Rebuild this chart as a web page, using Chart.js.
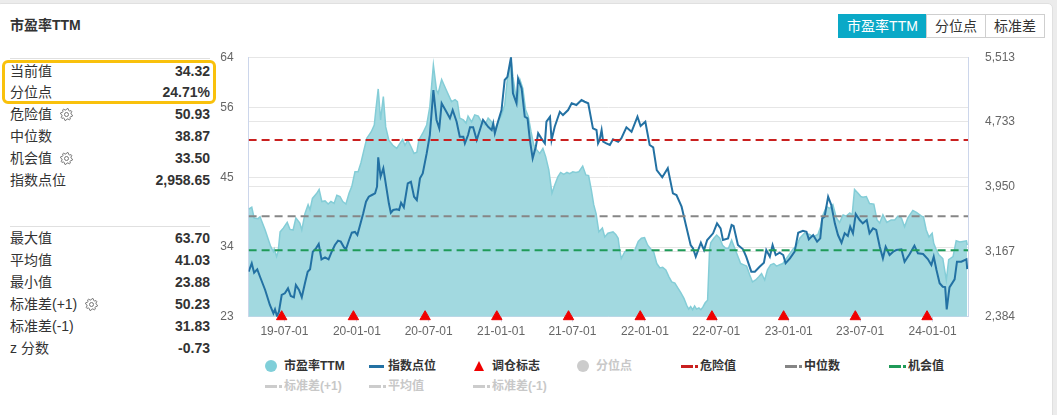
<!DOCTYPE html>
<html>
<head>
<meta charset="utf-8">
<script src="https://cdn.jsdelivr.net/npm/chart.js@4.4.1/dist/chart.umd.min.js"></script>
<style>
body{margin:0;background:#ececec;font-family:"Liberation Sans","Noto Sans CJK SC",sans-serif;color:#333;overflow:hidden;}
#card{position:absolute;left:-4px;top:3px;width:1055px;height:430px;background:#fff;border:1px solid #e0e0e0;border-radius:5px;}
.abs{position:absolute;}
#title{left:10px;top:15px;font-size:14px;font-weight:bold;line-height:20px;}
.sep{position:absolute;left:10px;width:200px;height:1px;background:#e0e0e0;}
.row{position:absolute;left:10px;width:200px;height:20px;line-height:20px;font-size:14px;}
.row .v{position:absolute;right:0;top:0;font-weight:bold;}
.row svg{vertical-align:-2px;margin-left:8px;}
#hl{position:absolute;left:2px;top:60px;width:208px;height:38px;border:3px solid #f9c10c;border-radius:6px;}
.btn{position:absolute;top:14px;height:24px;line-height:23px;font-size:14px;text-align:center;border:1px solid #cfcfcf;box-sizing:border-box;color:#333;background:#fff;}
.btn.on{background:#0aa9c7;border-color:#0aa9c7;color:#fff;}
#wrap{position:absolute;left:200px;top:40px;width:857px;height:310px;}
#wrap canvas{display:block;}
.lg{position:absolute;height:16px;line-height:16px;font-size:12px;font-weight:bold;white-space:nowrap;}
.lg .ic{position:absolute;left:0;top:0;width:18px;height:16px;}
.lg .tx{position:absolute;left:21px;top:0;}
</style>
</head>
<body>
<div id="card"></div>
<div id="title" class="abs">市盈率TTM</div>
<div class="btn on" style="left:838px;width:89px;">市盈率TTM</div>
<div class="btn" style="left:926px;width:60px;">分位点</div>
<div class="btn" style="left:985px;width:60px;">标准差</div>
<div id="panel"></div>
<div id="hl"></div>
<div id="wrap"><canvas id="mycanvas" width="857" height="310"></canvas></div>
<div id="legend"></div>
<script>
// PE TTM series
var peDates = [
'2019-04-01','2019-04-09','2019-04-15','2019-04-25','2019-04-30','2019-05-13','2019-05-27','2019-06-03','2019-06-05','2019-06-11',
'2019-06-15','2019-06-20','2019-06-28','2019-07-08','2019-07-15','2019-07-23','2019-07-30','2019-08-09','2019-08-14','2019-08-22',
'2019-08-30','2019-09-04','2019-09-10','2019-09-21','2019-09-27','2019-10-04','2019-10-12','2019-10-20','2019-10-27','2019-11-04',
'2019-11-11','2019-11-19','2019-11-26','2019-12-04','2019-12-12','2019-12-19','2019-12-27','2020-01-04','2020-01-11','2020-01-19',
'2020-01-26','2020-02-06','2020-02-14','2020-02-18','2020-02-24','2020-03-01','2020-03-08','2020-03-14','2020-03-22','2020-04-01',
'2020-04-11','2020-04-19','2020-04-26','2020-05-02','2020-05-09','2020-05-17','2020-05-25','2020-06-01','2020-06-06','2020-06-16',
'2020-06-26','2020-07-04','2020-07-13','2020-07-21','2020-07-25','2020-08-03','2020-08-15','2020-08-28','2020-09-06','2020-09-12',
'2020-09-18','2020-09-27','2020-10-04','2020-10-09','2020-10-18','2020-10-26','2020-11-04','2020-11-12','2020-11-21','2020-11-29',
'2020-12-08','2020-12-16','2020-12-24','2021-01-02','2021-01-10','2021-01-17','2021-01-23','2021-01-26','2021-01-31','2021-02-07',
'2021-02-12','2021-02-18','2021-02-25','2021-03-04','2021-03-11','2021-03-18','2021-03-25','2021-04-01','2021-04-09','2021-04-17',
'2021-04-24','2021-05-02','2021-05-10','2021-05-17','2021-05-25','2021-06-01','2021-06-09','2021-06-17','2021-06-24','2021-07-02',
'2021-07-10','2021-07-17','2021-07-27','2021-08-04','2021-08-11','2021-08-18','2021-08-24','2021-08-30','2021-09-06','2021-09-15',
'2021-09-21','2021-09-29','2021-10-12','2021-10-19','2021-10-25','2021-10-29','2021-11-02','2021-11-11','2021-11-24','2021-12-06',
'2021-12-15','2021-12-23','2021-12-31','2022-01-08','2022-01-16','2022-01-23','2022-01-31','2022-02-08','2022-02-15','2022-02-23',
'2022-03-03','2022-03-10','2022-03-18','2022-03-25','2022-04-02','2022-04-10','2022-04-17','2022-04-22','2022-04-27','2022-05-02',
'2022-05-07','2022-05-12','2022-05-18','2022-05-23','2022-05-28','2022-06-03','2022-06-09','2022-06-14','2022-06-17','2022-06-25',
'2022-07-02','2022-07-10','2022-07-17','2022-07-25','2022-08-01','2022-08-09','2022-08-17','2022-08-25','2022-09-01','2022-09-09',
'2022-09-16','2022-09-24','2022-10-01','2022-10-09','2022-10-17','2022-10-24','2022-11-01','2022-11-08','2022-11-16','2022-11-24',
'2022-12-01','2022-12-09','2022-12-17','2022-12-26','2023-01-04','2023-01-12','2023-01-21','2023-01-29','2023-02-10','2023-02-23',
'2023-03-04','2023-03-16','2023-03-23','2023-03-27','2023-04-07','2023-04-15','2023-04-23','2023-05-02','2023-05-10','2023-05-19',
'2023-05-27','2023-06-05','2023-06-11','2023-06-17','2023-06-26','2023-07-03','2023-07-08','2023-07-17','2023-07-25','2023-08-05',
'2023-08-13','2023-08-20','2023-08-28','2023-09-07','2023-09-18','2023-09-27','2023-10-05','2023-10-14','2023-10-22','2023-10-30',
'2023-11-12','2023-11-21','2023-12-04','2023-12-09','2023-12-16','2023-12-23','2023-12-31','2024-01-04','2024-01-11','2024-01-17',
'2024-01-27','2024-02-05','2024-02-11','2024-02-22','2024-03-01','2024-03-10','2024-03-18','2024-03-27','2024-03-29'
];
var peValues = [
40.0,40.3,38.6,38.5,38.8,36.7,34.1,33.3,33.7,32.5,
33.3,36.4,37.0,37.9,36.8,36.7,38.6,37.8,36.7,39.3,
40.7,39.9,41.7,42.5,43.1,41.2,41.3,40.8,41.2,40.9,
42.2,42.0,41.2,40.8,42.5,43.6,45.9,45.9,47.3,49.4,
51.2,52.2,53.3,55.7,59.0,54.1,57.8,53.0,50.9,50.1,
49.6,50.4,51.0,50.1,50.9,49.9,48.8,49.0,50.9,52.0,
53.3,56.2,62.8,58.8,58.3,60.5,58.8,57.0,57.3,57.0,
54.4,54.1,53.6,54.7,53.8,54.9,54.7,53.8,53.3,54.4,
53.8,52.5,53.8,54.9,56.5,60.7,62.5,63.7,60.9,58.0,
57.0,60.4,59.1,55.7,54.6,52.2,50.1,49.4,48.8,49.6,
48.3,46.2,42.5,43.8,45.1,45.8,45.5,45.8,45.6,45.9,
45.8,45.9,46.8,45.4,45.3,43.0,40.7,39.3,36.4,37.0,
35.6,36.2,36.4,36.0,35.4,33.5,32.2,33.3,33.5,33.5,
34.9,35.4,35.5,34.3,33.7,33.3,31.4,30.7,30.8,30.4,
29.3,28.5,28.3,27.6,26.8,25.9,24.8,24.2,24.6,24.1,
24.7,24.2,24.4,24.1,24.5,25.2,25.6,33.5,34.7,35.4,
35.9,35.4,34.3,33.8,33.8,35.1,33.8,32.5,31.4,31.2,
31.0,29.6,28.5,28.8,29.3,29.8,28.8,30.4,31.2,31.4,
31.0,31.2,31.4,32.2,33.0,33.7,34.2,35.4,36.2,36.0,
35.6,36.0,37.2,38.8,40.4,40.1,40.7,38.6,37.9,39.1,
38.9,39.4,39.1,43.1,42.5,42.0,41.9,42.0,40.9,40.8,
38.3,37.8,39.1,37.9,38.3,38.3,38.9,38.6,37.2,38.6,
39.8,39.5,38.9,38.8,36.7,35.6,36.2,34.6,33.5,32.8,
32.2,28.8,32.0,32.5,35.0,34.8,34.9,35.0,34.32
];

// index level series
var idxDates = [
'2019-04-01','2019-04-09','2019-04-15','2019-04-23','2019-04-30','2019-05-13','2019-05-25','2019-06-03','2019-06-07','2019-06-12',
'2019-06-17','2019-06-24','2019-07-02','2019-07-10','2019-07-17','2019-07-25','2019-07-30','2019-08-07','2019-08-14','2019-08-22',
'2019-08-29','2019-09-04','2019-09-11','2019-09-19','2019-09-26','2019-10-03','2019-10-12','2019-10-21','2019-10-29','2019-11-06',
'2019-11-14','2019-11-21','2019-11-29','2019-12-04','2019-12-12','2019-12-19','2019-12-27','2020-01-02','2020-01-09','2020-01-17',
'2020-01-24','2020-01-31','2020-02-08','2020-02-16','2020-02-21','2020-02-24','2020-03-01','2020-03-08','2020-03-14','2020-03-22',
'2020-03-27','2020-04-02','2020-04-11','2020-04-17','2020-04-22','2020-04-29','2020-05-09','2020-05-17','2020-05-25','2020-06-01',
'2020-06-09','2020-06-16','2020-06-26','2020-07-04','2020-07-13','2020-07-21','2020-07-28','2020-08-03','2020-08-15','2020-08-24',
'2020-08-31','2020-09-10','2020-09-18','2020-09-27','2020-10-01','2020-10-09','2020-10-14','2020-10-22','2020-10-31','2020-11-08',
'2020-11-16','2020-11-29','2020-12-08','2020-12-12','2020-12-16','2020-12-24','2021-01-02','2021-01-10','2021-01-17','2021-01-26',
'2021-01-31','2021-02-09','2021-02-13','2021-02-22','2021-03-02','2021-03-09','2021-03-15','2021-03-22','2021-03-30','2021-04-05',
'2021-04-13','2021-04-22','2021-04-26','2021-05-05','2021-05-09','2021-05-17','2021-05-30','2021-06-07','2021-06-20','2021-06-29',
'2021-07-11','2021-07-24','2021-08-01','2021-08-10','2021-08-22','2021-08-31','2021-09-04','2021-09-08','2021-09-13','2021-09-17',
'2021-09-25','2021-10-04','2021-10-12','2021-10-25','2021-11-02','2021-11-15','2021-11-28','2021-12-13','2021-12-21','2022-01-02',
'2022-01-13','2022-01-22','2022-01-31','2022-02-14','2022-02-28','2022-03-13','2022-03-22','2022-04-04','2022-04-16','2022-04-27',
'2022-05-03','2022-05-10','2022-05-23','2022-05-31','2022-06-08','2022-06-23','2022-07-03','2022-07-12','2022-07-18','2022-07-31',
'2022-08-09','2022-08-14','2022-08-25','2022-09-07','2022-09-15','2022-09-28','2022-10-07','2022-10-19','2022-10-30','2022-11-05',
'2022-11-14','2022-11-21','2022-11-29','2022-12-09','2022-12-18','2022-12-24','2023-01-04','2023-01-16','2023-01-25','2023-02-06',
'2023-02-15','2023-02-21','2023-03-04','2023-03-14','2023-03-22','2023-03-27','2023-04-02','2023-04-11','2023-04-19','2023-04-28',
'2023-05-06','2023-05-15','2023-05-23','2023-05-31','2023-06-06','2023-06-13','2023-06-20','2023-06-30','2023-07-08','2023-07-18',
'2023-07-25','2023-08-03','2023-08-11','2023-08-20','2023-08-28','2023-09-04','2023-09-14','2023-09-23','2023-10-01','2023-10-14',
'2023-10-22','2023-11-04','2023-11-16','2023-11-25','2023-12-08','2023-12-20','2023-12-29','2024-01-04','2024-01-11','2024-01-19',
'2024-01-27','2024-02-02','2024-02-06','2024-02-13','2024-02-26','2024-03-03','2024-03-14','2024-03-27','2024-03-29'
];
var idxValues = [
2927,3028,2915,2956,2866,2706,2525,2425,2473,2392,
2444,2646,2666,2726,2634,2618,2766,2706,2618,2787,
2927,2956,3168,3209,3261,3076,3100,3076,3168,3249,
3301,3289,3221,3197,3309,3397,3406,3369,3490,3631,
3771,3831,3852,3872,3952,4306,4072,4174,3993,3752,
3638,3671,3679,3671,3759,3703,3993,4012,3831,3791,
4053,4113,4354,4575,5118,4757,4656,4958,4856,4777,
4877,4736,4555,4555,4475,4575,4668,4668,4515,4636,
4757,4675,4636,4716,4596,4736,4877,5239,5278,5513,
5078,4958,5259,5138,4796,4777,4515,4294,4434,4596,
4535,4475,4736,4796,4515,4675,4856,4816,4877,4958,
4937,4997,4977,4958,4656,4636,4475,4515,4636,4495,
4475,4455,4523,4495,4535,4668,4615,4796,4684,4736,
4455,4427,4153,4065,4174,3872,3852,3711,3469,3249,
3209,3108,3276,3188,3309,3390,3510,3450,3309,3329,
3490,3478,3249,3197,3108,2927,2927,2987,3035,3188,
3108,3249,3128,3156,3128,3028,3088,3168,3397,3421,
3409,3317,3369,3289,3329,3571,3590,3831,3731,3510,
3369,3276,3390,3357,3469,3390,3623,3550,3510,3550,
3390,3450,3430,3228,3088,3228,3128,3168,3188,3197,
3047,3140,3240,3148,3140,3080,3008,3108,2947,2787,
2746,2742,2473,2738,2835,3047,3047,3076,2958.65
];

var rebalanceDates = ['2019-06-24','2019-12-23','2020-06-22','2020-12-21','2021-06-21','2021-12-20','2022-06-20','2022-12-19','2023-06-19','2023-12-18'];
var xTickDates = ['2019-07-01','2020-01-01','2020-07-01','2021-01-01','2021-07-01','2022-01-01','2022-07-01','2023-01-01','2023-07-01','2024-01-01'];
var peTicks = [23, 34, 45, 56, 64];
var idxTicks = [2384, 3167, 3950, 4733, 5513];
var xStart = '2019-04-01', xEnd = '2024-03-31';

// reference levels
var dangerValue = 50.93, medianValue = 38.87, chanceValue = 33.50;
var stdUpValue = 50.23, meanValue = 41.03, stdDownValue = 31.83;

var statLabels1 = ['当前值', '分位点', '危险值', '中位数', '机会值', '指数点位'];
var statValues1 = ['34.32', '24.71%', '50.93', '38.87', '33.50', '2,958.65'];
var statLabels2 = ['最大值', '平均值', '最小值', '标准差(+1)', '标准差(-1)', 'z 分数'];
var statValues2 = ['63.70', '41.03', '23.88', '50.23', '31.83', '-0.73'];
var gearRows = ['危险值', '机会值', '标准差(+1)'];

var DAY = 86400000, T0 = Date.UTC(2019, 3, 1);
function dayNum(s) {
	var p = s.split('-');
	return (Date.UTC(+p[0], +p[1] - 1, +p[2]) - T0) / DAY;
}
function pad(n) { return (n < 10 ? '0' : '') + n; }
function fmtDay(n) {
	var d = new Date(T0 + n * DAY);
	return String(d.getUTCFullYear()).slice(2) + '-' + pad(d.getUTCMonth() + 1) + '-' + pad(d.getUTCDate());
}

// gear icon
function gearSvg() {
	var p = [];
	for (var k = 0; k < 32; k++) {
		var a = k * Math.PI * 2 / 32 + Math.PI / 32;
		var r = (k % 4 < 2) ? 6 : 4.6;
		p.push((6.5 + r * Math.cos(a)).toFixed(2) + ',' + (6.5 + r * Math.sin(a)).toFixed(2));
	}
	return '<svg width="13" height="13" viewBox="0 0 13 13"><polygon points="' + p.join(' ') +
		'" fill="none" stroke="#777" stroke-width="1"/><circle cx="6.5" cy="6.5" r="2" fill="none" stroke="#777" stroke-width="1"/></svg>';
}

// left panel
var panel = document.getElementById('panel');
var html = '<div class="sep" style="top:58px"></div><div class="sep" style="top:226px"></div>';
var centers1 = [70.7, 91.7, 114.3, 136, 157.7, 180];
var centers2 = [238.3, 260, 282.3, 304.3, 326, 348.3];
function addRows(labels, values, centers) {
	for (var i = 0; i < labels.length; i++) {
		var g = gearRows.indexOf(labels[i]) >= 0 ? gearSvg() : '';
		html += '<div class="row" style="top:' + (centers[i] - 10) + 'px">' + labels[i] + g +
			'<span class="v">' + values[i] + '</span></div>';
	}
}
addRows(statLabels1, statValues1, centers1);
addRows(statLabels2, statValues2, centers2);
panel.innerHTML = html;

// legend
var legendItems = [
	{ text: '市盈率TTM', icon: 'circle', color: '#80cfd9', on: true },
	{ text: '指数点位', icon: 'line', color: '#2371a3', on: true },
	{ text: '调仓标志', icon: 'tri', color: '#f00000', on: true },
	{ text: '分位点', icon: 'circle', color: '#cccccc', on: false },
	{ text: '危险值', icon: 'dash', color: '#c9201f', on: true },
	{ text: '中位数', icon: 'dash', color: '#858585', on: true },
	{ text: '机会值', icon: 'dash', color: '#1f9a58', on: true },
	{ text: '标准差(+1)', icon: 'dash', color: '#cccccc', on: false },
	{ text: '平均值', icon: 'dash', color: '#cccccc', on: false },
	{ text: '标准差(-1)', icon: 'dash', color: '#cccccc', on: false }
];
function iconHtml(it) {
	if (it.icon == 'circle') return '<div style="position:absolute;left:2px;top:2px;width:12px;height:12px;border-radius:6px;background:' + it.color + '"></div>';
	if (it.icon == 'line') return '<div style="position:absolute;left:2px;top:7px;width:15px;height:3px;background:' + it.color + '"></div>';
	if (it.icon == 'tri') return '<div style="position:absolute;left:3px;top:3px;width:0;height:0;border-left:5.5px solid transparent;border-right:5.5px solid transparent;border-bottom:10px solid ' + it.color + '"></div>';
	return '<div style="position:absolute;left:2px;top:7px;width:12px;height:2.5px;background:' + it.color + '"></div>' +
		'<div style="position:absolute;left:16px;top:7px;width:2.5px;height:2.5px;background:' + it.color + '"></div>';
}
var lhtml = '';
for (var i = 0; i < legendItems.length; i++) {
	var it = legendItems[i];
	var col = i < 7 ? i : i - 7;
	var rowTop = i < 7 ? 358 : 378;
	lhtml += '<div class="lg" style="left:' + (263 + col * 104) + 'px;top:' + rowTop + 'px;color:' + (it.on ? '#333' : '#c8c8c8') + '">' +
		'<div class="ic">' + iconHtml(it) + '</div><span class="tx">' + it.text + '</span></div>';
}
document.getElementById('legend').innerHTML = lhtml;

// chart
var x0 = dayNum(xStart), x1 = dayNum(xEnd);
function pts(dates, vals) {
	var out = [];
	for (var i = 0; i < dates.length; i++) out.push({ x: dayNum(dates[i]), y: vals[i] });
	return out;
}
function flat(v) { return [{ x: x0, y: v }, { x: x1, y: v }]; }
function refLine(label, v, color, hidden) {
	return {
		label: label, data: flat(v), yAxisID: 'y', borderColor: color, borderWidth: 2,
		borderDash: [8, 5], pointRadius: 0, fill: false, order: 0, hidden: hidden
	};
}

var ctx = document.getElementById('mycanvas');
var chart = new Chart(ctx, {
	type: 'line',
	data: {
		datasets: [
			refLine('危险值', dangerValue, '#c9201f', false),
			refLine('中位数', medianValue, '#868686', false),
			refLine('机会值', chanceValue, '#1f9a58', false),
			refLine('标准差(+1)', stdUpValue, '#cccccc', true),
			refLine('平均值', meanValue, '#cccccc', true),
			refLine('标准差(-1)', stdDownValue, '#cccccc', true),
			{
				label: '调仓标志',
				data: rebalanceDates.map(function(d) { return { x: dayNum(d), y: peTicks[0] }; }),
				yAxisID: 'y', showLine: false, pointStyle: 'triangle', pointRadius: 6,
				backgroundColor: '#f00000', borderColor: '#f00000', borderWidth: 1, clip: false, order: 1
			},
			{
				label: '指数点位', data: pts(idxDates, idxValues), yAxisID: 'yR',
				borderColor: '#2371a3', borderWidth: 2, pointRadius: 0, tension: 0, fill: false, order: 2
			},
			{
				label: '市盈率TTM', data: pts(peDates, peValues), yAxisID: 'y',
				borderColor: '#84cdd7', backgroundColor: '#a2d9e0', borderWidth: 1.5,
				pointRadius: 0, tension: 0, fill: 'start', order: 3
			}
		]
	},
	options: {
		responsive: false,
		animation: false,
		devicePixelRatio: 1,
		layout: { padding: { top: 17.3, left: 0, right: 0, bottom: 0 } },
		plugins: { legend: { display: false }, tooltip: { enabled: false } },
		scales: {
			x: {
				type: 'linear', min: x0, max: x1,
				afterBuildTicks: function(s) { s.ticks = xTickDates.map(function(d) { return { value: dayNum(d) }; }); },
				afterFit: function(s) { s.height = 33.3; },
				ticks: {
					autoSkip: false, maxRotation: 0, padding: 3, color: '#666',
					font: { family: 'Liberation Sans', size: 12 },
					callback: function(v) { return fmtDay(v); }
				},
				grid: { drawOnChartArea: false, drawTicks: true, tickLength: 5, color: '#ccd6eb' },
				border: { color: '#ccd6eb' }
			},
			y: {
				position: 'left', min: peTicks[0], max: peTicks[peTicks.length - 1],
				afterBuildTicks: function(s) { s.ticks = peTicks.map(function(v) { return { value: v }; }); },
				afterFit: function(s) { s.width = 48.6; },
				ticks: { padding: 3, color: '#666', font: { family: 'Liberation Sans', size: 12 } },
				grid: { color: '#e6e6e6', drawTicks: true, tickLength: 12, tickColor: 'rgba(0,0,0,0)' },
				border: { color: '#ccd6eb' }
			},
			yR: {
				position: 'right', min: idxTicks[0], max: idxTicks[idxTicks.length - 1],
				afterBuildTicks: function(s) { s.ticks = idxTicks.map(function(v) { return { value: v }; }); },
				afterFit: function(s) { s.width = 89; },
				ticks: {
					padding: 3, color: '#666', font: { family: 'Liberation Sans', size: 12 },
					callback: function(v) { return v.toLocaleString('en-US'); }
				},
				grid: { color: '#e6e6e6', drawTicks: true, tickLength: 14, tickColor: 'rgba(0,0,0,0)' },
				border: { color: '#ccd6eb' }
			}
		}
	}
});
</script>
</body>
</html>
